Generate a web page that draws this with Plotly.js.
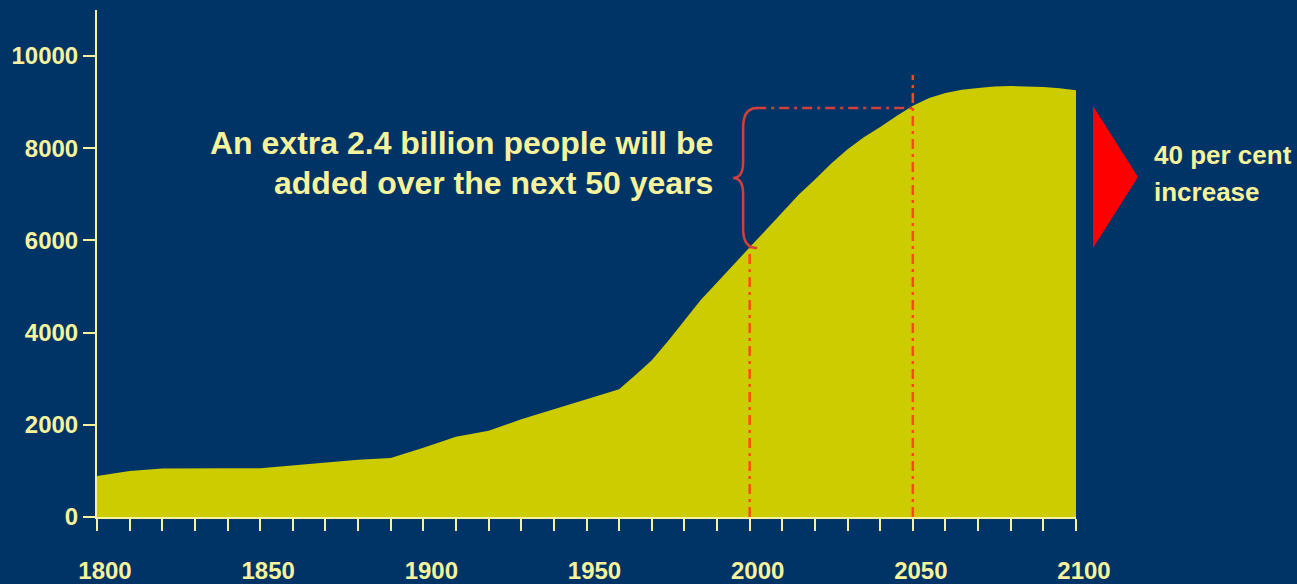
<!DOCTYPE html>
<html>
<head>
<meta charset="utf-8">
<script src="https://cdn.plot.ly/plotly-3.0.1.min.js"></script>
<style>html,body{margin:0;padding:0;background:#003366;}#chart{width:1297px;height:584px;}</style>
</head>
<body>
<div id="chart"></div>
<script>
// World population (millions)
const years = [1800,1810,1820,1830,1840,1850,1860,1870,1880,1890,1900,1910,1920,1930,1940,1950,1960,1965,1970,1975,1980,1985,1990,1995,2000,2005,2010,2015,2020,2025,2030,2035,2040,2045,2050,2055,2060,2065,2070,2075,2080,2085,2090,2095,2100];
const population = [890,1000,1050,1060,1060,1060,1120,1180,1240,1280,1500,1740,1870,2120,2340,2560,2770,3080,3400,3820,4270,4710,5090,5470,5830,6220,6600,6990,7320,7670,7980,8240,8460,8700,8920,9090,9200,9270,9310,9340,9350,9345,9330,9300,9260];

const xTickVals = [1800,1810,1820,1830,1840,1850,1860,1870,1880,1890,1900,1910,1920,1930,1940,1950,1960,1970,1980,1990,2000,2010,2020,2030,2040,2050,2060,2070,2080,2090,2100];
const xTickText = ['1800','','','','','1850','','','','','1900','','','','','1950','','','','','2000','','','','','2050','','','','','2100'];
const yTickVals = [0,2000,4000,6000,8000,10000];
const yTickText = ['0','2000','4000','6000','8000','10000'];

const noteLine1 = 'An extra 2.4 billion people will be';
const noteLine2 = 'added over the next 50 years';
const sideLine1 = '40 per cent';
const sideLine2 = 'increase';

const BG = '#003366', FILL = '#cccc00', TXT = '#f7f39c', ORANGE = '#ff4a12', BRACE = '#d2403c';
const wide = "'Liberation Sans',Arial,sans-serif";

const trace = {
  x: years, y: population, type: 'scatter', mode: 'lines',
  fill: 'tozeroy', fillcolor: FILL, line: {width: 0, color: FILL},
  hoverinfo: 'skip', showlegend: false
};

const dd = '10px,5px,3px,5px';
const layout = {
  width: 1297, height: 584,
  margin: {l: 97, r: 221, t: 10, b: 67},
  paper_bgcolor: BG, plot_bgcolor: BG,
  showlegend: false,
  xaxis: {
    range: [1800, 2100], showgrid: false, zeroline: false,
    showline: true, linecolor: TXT, linewidth: 2,
    tickmode: 'array', tickvals: xTickVals, ticktext: xTickText,
    ticks: 'outside', ticklen: 12, tickwidth: 2, tickcolor: TXT,
    ticklabelstandoff: 19, ticklabelshift: 8,
    tickfont: {family: wide, size: 24, color: TXT, weight: 'bold'}
  },
  yaxis: {
    range: [0, 11000], showgrid: false, zeroline: false,
    showline: true, linecolor: TXT, linewidth: 2,
    tickmode: 'array', tickvals: yTickVals, ticktext: yTickText,
    ticks: 'outside', ticklen: 12, tickwidth: 2, tickcolor: TXT,
    ticklabelstandoff: 0,
    tickfont: {family: wide, size: 24, color: TXT, weight: 'bold'}
  },
  shapes: [
    {type: 'line', xref: 'x', yref: 'y', x0: 2000, x1: 2000, y0: 0, y1: 5830, line: {color: ORANGE, width: 2.5, dash: dd}},
    {type: 'line', xref: 'x', yref: 'y', x0: 2050, x1: 2050, y0: 0, y1: 9590, line: {color: ORANGE, width: 2.5, dash: dd}},
    {type: 'line', xref: 'x', yref: 'y', x0: 2002, x1: 2050, y0: 8872, y1: 8872, line: {color: BRACE, width: 2.5, dash: dd}},
    {type: 'path', xref: 'x', yref: 'y', line: {color: BRACE, width: 2.5},
     path: 'M 2002.3,8872 Q 1998,8872 1998,8450 L 1998,7700 Q 1998,7354 1994.9,7354 Q 1998,7354 1998,7000 L 1998,6250 Q 1998,5835 2002.3,5835'},
    {type: 'path', xref: 'paper', yref: 'paper', fillcolor: '#ff0000', line: {width: 0},
     path: 'M 1.0174,0.8107 L 1.0633,0.6706 L 1.0174,0.5306 Z'}
  ],
  annotations: [
    {xref: 'x', yref: 'y', x: 1989.4, y: (517-143)/0.0461, xanchor: 'right', yanchor: 'middle', showarrow: false,
     text: noteLine1, font: {family: wide, size: 32, color: TXT, weight: 'bold'}},
    {xref: 'x', yref: 'y', x: 1989.4, y: (517-183)/0.0461, xanchor: 'right', yanchor: 'middle', showarrow: false,
     text: noteLine2, font: {family: wide, size: 32, color: TXT, weight: 'bold'}},
    {xref: 'paper', yref: 'paper', x: 1.0776, y: 0.714, xanchor: 'left', yanchor: 'middle', showarrow: false,
     text: sideLine1, font: {family: wide, size: 26, color: TXT, weight: 'bold'}},
    {xref: 'paper', yref: 'paper', x: 1.0776, y: 0.641, xanchor: 'left', yanchor: 'middle', showarrow: false,
     text: sideLine2, font: {family: wide, size: 26, color: TXT, weight: 'bold'}}
  ]
};

Plotly.newPlot('chart', [trace], layout, {staticPlot: true, displayModeBar: false});
</script>
</body>
</html>
